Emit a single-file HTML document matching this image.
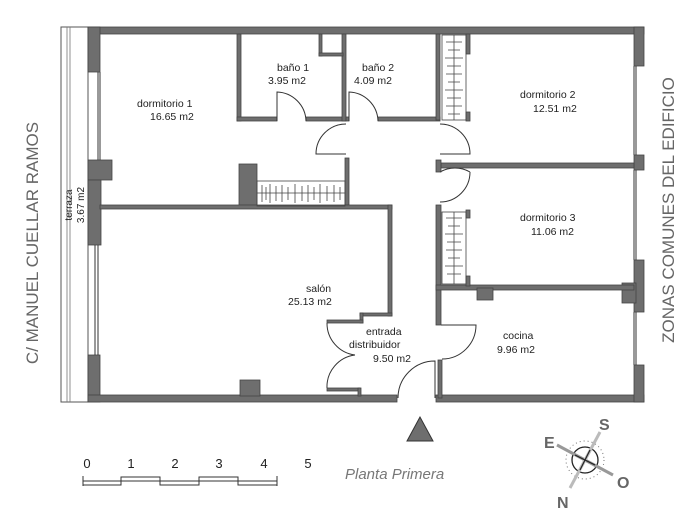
<!DOCTYPE html>
<html><head><meta charset="utf-8"><style>
html,body{margin:0;padding:0;background:#fff}
svg{display:block}
text{font-family:"Liberation Sans",Arial,sans-serif}
</style></head><body>
<svg width="700" height="525" viewBox="0 0 700 525" xmlns="http://www.w3.org/2000/svg">
<rect width="700" height="525" fill="#fff"/>
<!-- terrace -->
<rect x="61" y="27" width="27" height="375" fill="none" stroke="#555" stroke-width="1"/>
<line x1="67" y1="27" x2="67" y2="402" stroke="#777" stroke-width="0.8"/>
<line x1="70" y1="27" x2="70" y2="402" stroke="#777" stroke-width="0.8"/>
<text transform="translate(72,205) rotate(-90)" font-size="10" text-anchor="middle" fill="#222">terraza</text>
<text transform="translate(84,205) rotate(-90)" font-size="10" text-anchor="middle" fill="#222">3.67 m2</text>
<g fill="#6e6e6e" stroke="#444" stroke-width="0.8">
<!-- outer walls -->
<rect x="88" y="27" width="556" height="7"/>
<rect x="88" y="27" width="12" height="45"/>
<rect x="88" y="160" width="24" height="20"/>
<rect x="88" y="180" width="13" height="65"/>
<rect x="88" y="355" width="12" height="47"/>
<rect x="88" y="395" width="309" height="7"/>
<rect x="436" y="395" width="208" height="7"/>
<rect x="634" y="27" width="10" height="39"/>
<rect x="634" y="155" width="10" height="15"/>
<rect x="634" y="260" width="10" height="52"/>
<rect x="622" y="283" width="14" height="20"/>
<rect x="634" y="365" width="10" height="37"/>
<!-- inner walls -->
<rect x="237" y="34" width="4" height="87"/>
<rect x="237" y="117" width="40" height="4"/>
<rect x="306" y="117" width="40" height="4"/>
<rect x="342" y="34" width="4" height="87"/>
<rect x="346" y="117" width="3" height="4"/>
<rect x="378" y="117" width="62" height="4"/>
<rect x="436" y="34" width="4" height="86"/>
<rect x="466" y="34" width="4" height="20"/>
<rect x="466" y="112" width="4" height="9"/>
<rect x="319" y="34" width="3" height="22"/>
<rect x="319" y="53" width="24" height="3"/>
<rect x="239" y="164" width="18" height="42"/>
<rect x="345" y="158" width="4" height="48"/>
<rect x="100" y="205" width="292" height="4"/>
<rect x="388" y="205" width="4" height="111"/>
<rect x="360" y="313" width="32" height="3"/>
<rect x="360" y="313" width="3" height="10"/>
<rect x="327" y="320" width="36" height="3"/>
<rect x="327" y="388" width="33" height="3"/>
<rect x="358" y="388" width="3" height="8"/>
<rect x="240" y="380" width="20" height="16"/>
<rect x="441" y="163" width="193" height="5"/>
<rect x="436" y="160" width="5" height="12"/>
<rect x="436" y="205" width="5" height="120"/>
<rect x="436" y="285" width="198" height="5"/>
<rect x="438" y="360" width="4" height="38"/>
<rect x="477" y="288" width="16" height="12"/>
<rect x="466" y="210" width="4" height="8"/>
<rect x="466" y="276" width="4" height="10"/>
</g>
<!-- windows -->
<g stroke="#333" stroke-width="1" fill="#fff">
<line x1="98" y1="72" x2="98" y2="160"/><line x1="100" y1="72" x2="100" y2="160"/>
<line x1="95" y1="245" x2="95" y2="355"/><line x1="98" y1="245" x2="98" y2="355"/>
<line x1="634" y1="66" x2="634" y2="155"/><line x1="636" y1="66" x2="636" y2="155"/>
<line x1="634" y1="170" x2="634" y2="260"/><line x1="636" y1="170" x2="636" y2="260"/>
<line x1="634" y1="312" x2="634" y2="365"/><line x1="636" y1="312" x2="636" y2="365"/>
</g>
<!-- closets -->
<g stroke="#444" stroke-width="0.8" fill="none">
<rect x="257" y="181" width="88" height="25"/>
<line x1="257" y1="193" x2="345" y2="193"/>
<rect x="442" y="35" width="24" height="85"/>
<line x1="454" y1="35" x2="454" y2="120"/>
<rect x="442" y="212" width="24" height="72"/>
<line x1="454" y1="212" x2="454" y2="284"/>
</g>
<g stroke="#444" stroke-width="0.8">
<path d="M262 185v17M266 187v13M270 184v19M276 186v15M282 185v17M288 187v13M295 184v19M302 186v15M308 185v17M314 187v13M320 184v19M327 186v15M334 185v17M340 187v13"/>
<path d="M446 42h16M448 50h12M445 58h18M447 66h14M446 74h16M448 82h12M445 90h18M447 98h14M446 106h16M448 114h12"/>
<path d="M446 218h16M448 226h12M445 234h18M447 242h14M446 250h16M448 258h12M445 266h18M447 274h14"/>
</g>
<!-- doors -->
<g stroke="#333" stroke-width="1" fill="none">
<path d="M277 121V92A30 30 0 0 1 306 121"/>
<path d="M349 121V92A30 30 0 0 1 378 121"/>
<path d="M346 124A30 30 0 0 0 316 154H346"/>
<path d="M440 124A30 30 0 0 1 470 154H440"/>
<path d="M440 172A30 30 0 0 1 470 172M440 202A30 30 0 0 0 470 172"/>
<path d="M327 323A32 32 0 0 0 355 355"/>
<path d="M327 388A32 32 0 0 1 355 355"/>
<path d="M435 398V361A37 37 0 0 0 398 398"/>
<path d="M441 325H476A34 34 0 0 1 442 359"/>
</g>
<!-- labels -->
<g font-size="10.5" fill="#222">
<text x="137" y="107">dormitorio 1</text><text x="150" y="120">16.65 m2</text>
<text x="277" y="71">baño 1</text><text x="268" y="84">3.95 m2</text>
<text x="362" y="71">baño 2</text><text x="354" y="84">4.09 m2</text>
<text x="520" y="98">dormitorio 2</text><text x="533" y="112">12.51 m2</text>
<text x="520" y="221">dormitorio 3</text><text x="531" y="235">11.06 m2</text>
<text x="306" y="292">salón</text><text x="288" y="305">25.13 m2</text>
<text x="366" y="335">entrada</text><text x="349" y="348">distribuidor</text><text x="373" y="362">9.50 m2</text>
<text x="503" y="339">cocina</text><text x="497" y="353">9.96 m2</text>
</g>
<text transform="translate(38,243) rotate(-90)" font-size="17" text-anchor="middle" fill="#666">C/ MANUEL CUELLAR RAMOS</text>
<text transform="translate(674,210) rotate(-90)" font-size="17" text-anchor="middle" fill="#666">ZONAS COMUNES DEL EDIFICIO</text>
<!-- entrance triangle -->
<polygon points="420,417 407,441 433,441" fill="#6e6e6e" stroke="#333" stroke-width="1"/>
<!-- scale -->
<g font-size="13" fill="#222" text-anchor="middle">
<text x="87" y="468">0</text><text x="131" y="468">1</text><text x="175" y="468">2</text><text x="219" y="468">3</text><text x="264" y="468">4</text><text x="308" y="468">5</text>
</g>
<g stroke="#333" stroke-width="1" fill="none">
<path d="M83 476V486M277 476V486"/>
<path d="M83 481H277"/>
<path d="M83 485H121V477H160V485H199V477H238V485H277"/>
</g>
<text x="345" y="479" font-size="15" font-style="italic" fill="#777">Planta Primera</text>
<!-- compass -->
<g transform="translate(585,460)">
<circle r="13" fill="none" stroke="#222" stroke-width="1.3"/>
<circle r="19" fill="none" stroke="#777" stroke-width="1" stroke-dasharray="1 3"/>
<line x1="-28" y1="-15" x2="28" y2="15" stroke="#999" stroke-width="3"/>
<line x1="-15" y1="28" x2="15" y2="-28" stroke="#bbb" stroke-width="3"/>
<line x1="-10" y1="-5" x2="10" y2="5" stroke="#222" stroke-width="1.2"/>
<line x1="-5" y1="10" x2="5" y2="-10" stroke="#222" stroke-width="1.2"/>
</g>
<g font-size="16" font-weight="bold" fill="#666">
<text x="599" y="430">S</text><text x="544" y="448">E</text><text x="617" y="488">O</text><text x="557" y="508">N</text>
</g>
</svg>
</body></html>
